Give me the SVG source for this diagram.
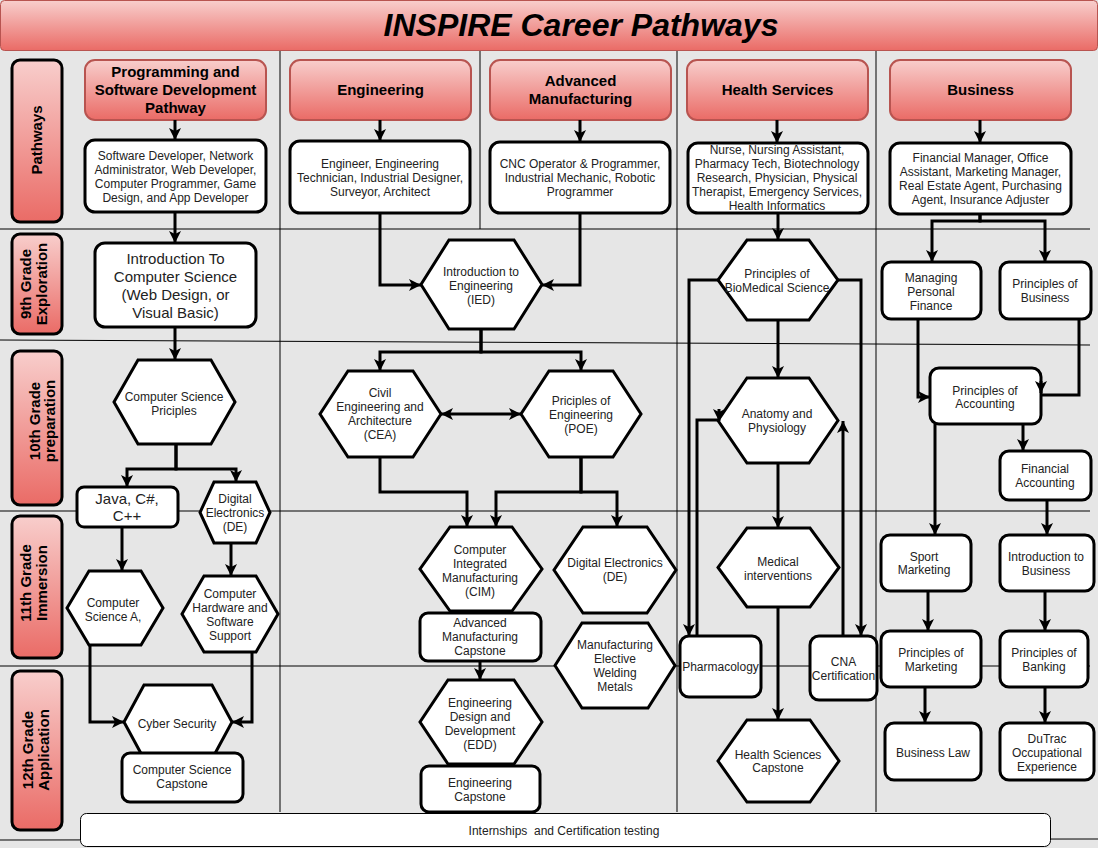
<svg xmlns="http://www.w3.org/2000/svg" width="1098" height="848" viewBox="0 0 1098 848">
<defs>
<linearGradient id="pink" x1="0" y1="0" x2="0" y2="1">
<stop offset="0" stop-color="#f8cecc"/>
<stop offset="1" stop-color="#ea6b66"/>
</linearGradient>
<marker id="arr" viewBox="0 0 12 12" refX="12" refY="6" markerWidth="12" markerHeight="12" markerUnits="userSpaceOnUse" orient="auto-start-reverse">
<path d="M0,0 L12,6 L0,12 L3,6 z" fill="#000"/>
</marker>
<style>
.lane{stroke:#000;stroke-width:1;fill:none}
.hdr{fill:url(#pink);stroke:#b85450;stroke-width:2}
.lbl{fill:url(#pink);stroke:#000;stroke-width:3}
.box{fill:#fff;stroke:#000;stroke-width:3}
.t{font-family:"Liberation Sans",Arial,sans-serif;font-size:12px;fill:#222;text-anchor:middle}
.t15{font-size:15px}
.hb{font-family:"Liberation Sans",Arial,sans-serif;font-size:15px;font-weight:bold;fill:#000;text-anchor:middle}
.conn path{fill:none;stroke:#000;stroke-width:3;marker-end:url(#arr)}
</style>
</defs>
<rect x="0" y="0" width="1098" height="848" fill="#e6e6e6"/>
<g id="title">
<rect x="0.5" y="0.5" width="1097" height="50" rx="4" fill="url(#pink)" stroke="#b85450" stroke-width="1"/>
<text x="581" y="36" font-family="Liberation Sans, Arial, sans-serif" font-size="32" font-weight="bold" font-style="italic" text-anchor="middle" fill="#000">INSPIRE Career Pathways</text>
</g>
<g id="lanes">
<path class="lane" d="M280,51 V812 M480,51 V229 M677,51 V812 M876,51 V812"/>
<path class="lane" d="M0,229 H1090 M0,340 L1090,345 M0,511 H1090 M0,666 H1090 M0,840 L1098,839"/>
</g>
<g id="lbl-pathways"><rect class="lbl" x="12" y="60" width="50" height="162" rx="8"/>
<text class="hb" transform="translate(37,140) rotate(-90)" y="4.5">Pathways</text></g>
<g id="lbl-9th"><rect class="lbl" x="12" y="234" width="50" height="100" rx="8"/>
<text class="hb" transform="translate(0,284) rotate(-90)"><tspan x="0" y="31">9th Grade</tspan><tspan x="0" y="47">Exploration</tspan></text></g>
<g id="lbl-10th"><rect class="lbl" x="12" y="351" width="50" height="154" rx="8"/>
<text class="hb" transform="translate(0,421) rotate(-90)"><tspan x="0" y="40">10th Grade</tspan><tspan x="0" y="55">preparation</tspan></text></g>
<g id="lbl-11th"><rect class="lbl" x="12" y="516" width="50" height="142" rx="8"/>
<text class="hb" transform="translate(0,583) rotate(-90)"><tspan x="0" y="31">11th Grade</tspan><tspan x="0" y="47">Immersion</tspan></text></g>
<g id="lbl-12th"><rect class="lbl" x="12" y="671" width="50" height="159" rx="8"/>
<text class="hb" transform="translate(0,750) rotate(-90)"><tspan x="0" y="33">12th Grade</tspan><tspan x="0" y="49">Application</tspan></text></g>

<g id="hdr-prog"><rect class="hdr" x="85" y="60" width="181" height="60" rx="10"/>
<text class="hb"><tspan x="175.5" y="77">Programming and</tspan><tspan x="175.5" y="95">Software Development</tspan><tspan x="175.5" y="113">Pathway</tspan></text></g>
<g id="hdr-eng"><rect class="hdr" x="290" y="60" width="181" height="60" rx="10"/>
<text class="hb" x="380.5" y="94.5">Engineering</text></g>
<g id="hdr-am"><rect class="hdr" x="490" y="60" width="181" height="60" rx="10"/>
<text class="hb"><tspan x="580.5" y="86">Advanced</tspan><tspan x="580.5" y="104">Manufacturing</tspan></text></g>
<g id="hdr-health"><rect class="hdr" x="687" y="60" width="181" height="60" rx="10"/>
<text class="hb" x="777.5" y="94.5">Health Services</text></g>
<g id="hdr-bus"><rect class="hdr" x="890" y="60" width="181" height="60" rx="10"/>
<text class="hb" x="980.5" y="94.5">Business</text></g>

<g id="car-prog"><rect class="box" x="85" y="140" width="181" height="72" rx="10"/>
<text class="t"><tspan x="175.5" y="159.5">Software Developer, Network</tspan><tspan x="175.5" y="173.5">Administrator, Web Developer,</tspan><tspan x="175.5" y="187.5">Computer Programmer, Game</tspan><tspan x="175.5" y="201.5">Design, and App Developer</tspan></text></g>
<g id="car-eng"><rect class="box" x="290" y="141" width="180" height="72" rx="10"/>
<text class="t"><tspan x="380" y="167.5">Engineer, Engineering</tspan><tspan x="380" y="181.5">Technician, Industrial Designer,</tspan><tspan x="380" y="195.5">Surveyor, Architect</tspan></text></g>
<g id="car-am"><rect class="box" x="490" y="142" width="180" height="71" rx="10"/>
<text class="t"><tspan x="580" y="168">CNC Operator &amp; Programmer,</tspan><tspan x="580" y="182">Industrial Mechanic, Robotic</tspan><tspan x="580" y="196">Programmer</tspan></text></g>
<g id="car-health"><rect class="box" x="688" y="143" width="180" height="70" rx="10"/>
<text class="t"><tspan x="777" y="153.5">Nurse, Nursing Assistant,</tspan><tspan x="777" y="167.5">Pharmacy Tech, Biotechnology</tspan><tspan x="777" y="181.5">Research, Physician, Physical</tspan><tspan x="777" y="195.5">Therapist, Emergency Services,</tspan><tspan x="777" y="209.5">Health Informatics</tspan></text></g>
<g id="car-bus"><rect class="box" x="890" y="143" width="181" height="71" rx="10"/>
<text class="t"><tspan x="980.5" y="162">Financial Manager, Office</tspan><tspan x="980.5" y="176">Assistant, Marketing Manager,</tspan><tspan x="980.5" y="190">Real Estate Agent, Purchasing</tspan><tspan x="980.5" y="204">Agent, Insurance Adjuster</tspan></text></g>

<g id="intro-cs"><rect class="box" x="95" y="243" width="161" height="84" rx="10"/>
<text class="t t15"><tspan x="175.5" y="263.5">Introduction To</tspan><tspan x="175.5" y="281.5">Computer Science</tspan><tspan x="175.5" y="299.5">(Web Design, or</tspan><tspan x="175.5" y="317.5">Visual Basic)</tspan></text></g>
<g id="ied"><polygon class="box" points="449,240 514,240 542,284.5 514,329 449,329 421,284.5"/>
<text class="t"><tspan x="481" y="275.5">Introduction to</tspan><tspan x="481" y="289.5">Engineering</tspan><tspan x="481" y="303.5">(IED)</tspan></text></g>
<g id="biomed"><polygon class="box" points="747,240 809,240 838,280 809,320 747,320 718,280"/>
<text class="t"><tspan x="777" y="277.5">Principles of</tspan><tspan x="777" y="291.5">BioMedical Science</tspan></text></g>
<g id="mpf"><rect class="box" x="882" y="262" width="99" height="57" rx="9"/>
<text class="t"><tspan x="931" y="281.5">Managing</tspan><tspan x="931" y="295.5">Personal</tspan><tspan x="931" y="309.5">Finance</tspan></text></g>
<g id="pob"><rect class="box" x="1000" y="262" width="91" height="57" rx="9"/>
<text class="t"><tspan x="1045" y="287.5">Principles of</tspan><tspan x="1045" y="301.5">Business</tspan></text></g>

<g id="csp"><polygon class="box" points="138,360 211,360 235,402 211,444 138,444 114,402"/>
<text class="t"><tspan x="174" y="400.5">Computer Science</tspan><tspan x="174" y="414.5">Priciples</tspan></text></g>
<g id="cea"><polygon class="box" points="348,371 413,371 441,414 413,457 348,457 320,414"/>
<text class="t"><tspan x="380" y="396.5">Civil</tspan><tspan x="380" y="410.5">Engineering and</tspan><tspan x="380" y="424.5">Architecture</tspan><tspan x="380" y="438.5">(CEA)</tspan></text></g>
<g id="poe"><polygon class="box" points="549,371 613,371 641,414 613,457 549,457 521,414"/>
<text class="t"><tspan x="581" y="404.5">Priciples of</tspan><tspan x="581" y="418.5">Engineering</tspan><tspan x="581" y="432.5">(POE)</tspan></text></g>
<g id="anatomy"><polygon class="box" points="747,378 809,378 838,420.5 809,463 747,463 718,420.5"/>
<text class="t"><tspan x="777" y="417.5">Anatomy and</tspan><tspan x="777" y="431.5">Physiology</tspan></text></g>
<g id="poa"><rect class="box" x="930" y="368" width="111" height="56" rx="9"/>
<text class="t"><tspan x="985" y="394.5">Principles of</tspan><tspan x="985" y="408">Accounting</tspan></text></g>
<g id="fa"><rect class="box" x="1000" y="451" width="91" height="49" rx="9"/>
<text class="t"><tspan x="1045" y="472.5">Financial</tspan><tspan x="1045" y="486.5">Accounting</tspan></text></g>
<g id="java"><rect class="box" x="77" y="487" width="101" height="40" rx="7"/>
<text class="t t15"><tspan x="127" y="503.5">Java, C#,</tspan><tspan x="127" y="520.5">C++</tspan></text></g>
<g id="de-small"><polygon class="box" points="214,482 256,482 270,512.5 256,543 214,543 200,512.5"/>
<text class="t"><tspan x="235" y="502.5">Digital</tspan><tspan x="235" y="516.5">Electronics</tspan><tspan x="235" y="530.5">(DE)</tspan></text></g>

<g id="csa"><polygon class="box" points="89,571 141,571 163,608 141,645 89,645 67,608"/>
<text class="t"><tspan x="113" y="606.5">Computer</tspan><tspan x="113" y="620.5">Science A,</tspan></text></g>
<g id="chss"><polygon class="box" points="204,576 256,576 278,614 256,652 204,652 182,614"/>
<text class="t"><tspan x="230" y="597.5">Computer</tspan><tspan x="230" y="611.5">Hardware and</tspan><tspan x="230" y="625.5">Software</tspan><tspan x="230" y="639.5">Support</tspan></text></g>
<g id="cim"><polygon class="box" points="450,527 512,527 542,569 512,611 450,611 420,569"/>
<text class="t"><tspan x="480" y="553.5">Computer</tspan><tspan x="480" y="567.5">Integrated</tspan><tspan x="480" y="581.5">Manufacturing</tspan><tspan x="480" y="595.5">(CIM)</tspan></text></g>
<g id="am-capstone"><rect class="box" x="420" y="613" width="121" height="48" rx="8"/>
<text class="t"><tspan x="480" y="626.5">Advanced</tspan><tspan x="480" y="640.5">Manufacturing</tspan><tspan x="480" y="654.5">Capstone</tspan></text></g>
<g id="de-mid"><polygon class="box" points="583,527 647,527 676,570 647,613 583,613 554,570"/>
<text class="t"><tspan x="615" y="566.5">Digital Electronics</tspan><tspan x="615" y="581">(DE)</tspan></text></g>
<g id="mewm"><polygon class="box" points="582,623 648,623 675,665.5 648,708 582,708 555,665.5"/>
<text class="t"><tspan x="615" y="648.5">Manufacturing</tspan><tspan x="615" y="662.5">Elective</tspan><tspan x="615" y="676.5">Welding</tspan><tspan x="615" y="690.5">Metals</tspan></text></g>
<g id="medint"><polygon class="box" points="747,528 810,528 839,567.5 810,607 747,607 718,567.5"/>
<text class="t"><tspan x="778" y="565.5">Medical</tspan><tspan x="778" y="579.5">interventions</tspan></text></g>
<g id="pharm"><rect class="box" x="680" y="636" width="81" height="61" rx="9"/>
<text class="t" x="720.5" y="670.5">Pharmacology</text></g>
<g id="cna"><rect class="box" x="810" y="636" width="67" height="64" rx="9"/>
<text class="t"><tspan x="843.5" y="665.5">CNA</tspan><tspan x="843.5" y="679.5">Certification</tspan></text></g>
<g id="sport"><rect class="box" x="881" y="535" width="90" height="56" rx="9"/>
<text class="t"><tspan x="924" y="560.5">Sport</tspan><tspan x="924" y="574">Marketing</tspan></text></g>
<g id="introbus"><rect class="box" x="1000" y="535" width="94" height="56" rx="9"/>
<text class="t"><tspan x="1046" y="560.5">Introduction to</tspan><tspan x="1046" y="574.5">Business</tspan></text></g>
<g id="pom"><rect class="box" x="881" y="631" width="100" height="56" rx="9"/>
<text class="t"><tspan x="931" y="656.5">Principles of</tspan><tspan x="931" y="670.5">Marketing</tspan></text></g>
<g id="pobank"><rect class="box" x="1000" y="631" width="88" height="56" rx="9"/>
<text class="t"><tspan x="1044" y="656.5">Principles of</tspan><tspan x="1044" y="670.5">Banking</tspan></text></g>

<g id="cyber"><polygon class="box" points="144,685 212,685 232,722 212,759 144,759 124,722"/>
<text class="t" x="177" y="727.5">Cyber Security</text></g>
<g id="cs-capstone"><rect class="box" x="122" y="753" width="121" height="49" rx="8"/>
<text class="t"><tspan x="182" y="773.5">Computer Science</tspan><tspan x="182" y="788">Capstone</tspan></text></g>
<g id="edd"><polygon class="box" points="448,680 514,680 542,722 514,764 448,764 420,722"/>
<text class="t"><tspan x="480" y="706.5">Engineering</tspan><tspan x="480" y="720.5">Design and</tspan><tspan x="480" y="734.5">Development</tspan><tspan x="480" y="748.5">(EDD)</tspan></text></g>
<g id="eng-capstone"><rect class="box" x="421" y="766" width="119" height="46" rx="8"/>
<text class="t"><tspan x="480" y="786.5">Engineering</tspan><tspan x="480" y="800.5">Capstone</tspan></text></g>
<g id="hs-capstone"><polygon class="box" points="747,720 810,720 839,761 810,802 747,802 718,761"/>
<text class="t"><tspan x="778" y="758.5">Health Sciences</tspan><tspan x="778" y="771.5">Capstone</tspan></text></g>
<g id="buslaw"><rect class="box" x="885" y="723" width="96" height="57" rx="9"/>
<text class="t" x="933" y="756.5">Business Law</text></g>
<g id="dutrac"><rect class="box" x="1000" y="723" width="94" height="57" rx="9"/>
<text class="t"><tspan x="1047" y="742.5">DuTrac</tspan><tspan x="1047" y="756.5">Occupational</tspan><tspan x="1047" y="770.5">Experience</tspan></text></g>

<g id="internships"><rect x="80.5" y="813.5" width="970" height="33" rx="6" fill="#fff" stroke="#000" stroke-width="1"/>
<text class="t" x="564" y="834.5" xml:space="preserve">Internships  and Certification testing</text></g>

<g id="connectors" class="conn">
<path d="M175,120 V140"/>
<path d="M380,120 V141"/>
<path d="M580,120 V142"/>
<path d="M777,120 V143"/>
<path d="M980,120 V143"/>
<path d="M175,212 V243"/>
<path d="M380,213 V285 H421"/>
<path d="M580,213 V285 H542"/>
<path d="M778,213 V240"/>
<path d="M980,214 V221 H932 V262"/>
<path d="M980,214 V221 H1045 V262"/>
<path d="M175,327 V360"/>
<path d="M176,444 V469 H127 V487"/>
<path d="M176,444 V469 H236 V482"/>
<path d="M481,329 V352 H380 V371"/>
<path d="M481,329 V352 H581 V371"/>
<path d="M441,414 H521" marker-start="url(#arr)"/>
<path d="M380,457 V492 H467 V527"/>
<path d="M581,457 V492 H496 V527"/>
<path d="M581,457 V492 H617 V527"/>
<path d="M778,320 V378"/>
<path d="M718,280 H689 V636"/>
<path d="M838,280 H861 V636"/>
<path d="M697,636 V420 H717 M719,409 V421"/>
<path d="M843,636 V421"/>
<path d="M778,463 V528"/>
<path d="M778,607 V720"/>
<path d="M918,319 V397 H930"/>
<path d="M1079,319 V395 H1041 M1041,381 V393"/>
<path d="M1023,424 V451"/>
<path d="M935,424 V535"/>
<path d="M1047,500 V535"/>
<path d="M928,591 V631"/>
<path d="M1045,591 V631"/>
<path d="M925,687 V723"/>
<path d="M1045,687 V723"/>
<path d="M122,527 V571"/>
<path d="M231,543 V576"/>
<path d="M90,645 V722 H124"/>
<path d="M252,652 V722 H232"/>
<path d="M480,661 V680"/>
</g>
</svg>
